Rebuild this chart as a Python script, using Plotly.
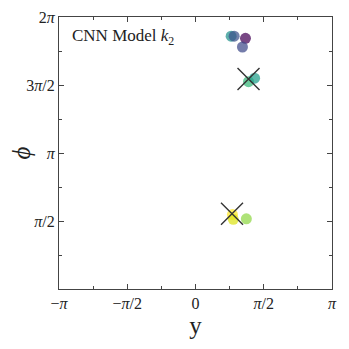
import numpy as np
import plotly.graph_objects as go

PI = np.pi

# data points (y, phi)
pt_y = [0.82, 0.89, 1.15, 1.08, 1.22, 1.36, 0.85, 0.87, 1.17]
pt_phi = [5.84, 5.84, 5.79, 5.59, 4.79, 4.87, 1.72, 1.61, 1.62]
pt_color = ["#21918c", "#3b528b", "#440154", "#3e4a89", "#35b779", "#1f9e89",
            "#fde725", "#dde318", "#8fd744"]

# true values (X markers)
true_y = [1.22, 0.84]
true_phi = [4.85, 1.74]

xtick_vals = [-PI, -PI / 2, 0, PI / 2, PI]
xtick_text = ["−<i>π</i>", "−<i>π</i>/2", "0", "<i>π</i>/2", "<i>π</i>"]
ytick_vals = [PI / 2, PI, 3 * PI / 2, 2 * PI]
ytick_text = ["<i>π</i>/2", "<i>π</i>", "3<i>π</i>/2", "2<i>π</i>"]

fig = go.Figure()
fig.add_trace(go.Scatter(
    x=pt_y, y=pt_phi, mode="markers",
    marker=dict(size=11, color=pt_color, opacity=0.72, line=dict(width=0)),
    showlegend=False, hoverinfo="skip"))
fig.add_trace(go.Scatter(
    x=true_y, y=true_phi, mode="markers",
    marker=dict(symbol="x-thin", size=22, color="#333333",
                line=dict(width=1.4, color="#333333")),
    showlegend=False, hoverinfo="skip"))

font_family = "Liberation Serif"
axis_common = dict(
    showgrid=False, zeroline=False, showline=True, linecolor="#444444",
    linewidth=1, mirror="ticks", ticks="inside", ticklen=5, tickwidth=1,
    tickcolor="#444444", tickfont=dict(family=font_family, size=16, color="#222"),
    automargin=False,
)
fig.update_xaxes(
    range=[-PI, PI], tickmode="array", tickvals=xtick_vals, ticktext=xtick_text,
    minor=dict(tickmode="array", tickvals=[-3 * PI / 4, -PI / 4, PI / 4, 3 * PI / 4],
               ticks="inside", ticklen=3, tickcolor="#444444"),
    title=dict(text="y", font=dict(family=font_family, size=25, color="#222"),
               standoff=2),
    **axis_common)
fig.update_yaxes(
    range=[0, 2 * PI], tickmode="array", tickvals=ytick_vals, ticktext=ytick_text,
    minor=dict(tickmode="array", tickvals=[PI / 4, 3 * PI / 4, 5 * PI / 4, 7 * PI / 4],
               ticks="inside", ticklen=3, tickcolor="#444444"),
    title=dict(text="<i>ϕ</i>", font=dict(family=font_family, size=25, color="#222"),
               standoff=4),
    **axis_common)

fig.add_annotation(
    x=0.04, y=0.975, xref="paper", yref="paper", xanchor="left", yanchor="top",
    text="CNN Model <i>k</i><sub>2</sub>", showarrow=False,
    font=dict(family=font_family, size=17, color="#222"))

# page body has an 8px margin; compensate so the plot box sits where it should
fig.update_layout(
    width=341, height=341,
    margin=dict(l=51, r=17, t=9, b=60),
    paper_bgcolor="white", plot_bgcolor="white",
)
fig.write_html("out.html")
